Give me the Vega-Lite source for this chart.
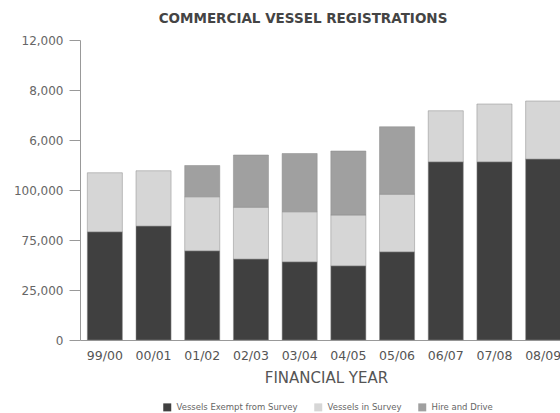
{
  "$schema": "https://vega.github.io/schema/vega-lite/v6.json",
  "autosize": {"type": "none"},
  "width": 480,
  "height": 300,
  "padding": {"left": 80, "top": 40, "right": 0, "bottom": 73},
  "background": "white",
  "title": {
    "text": "COMMERCIAL VESSEL REGISTRATIONS",
    "font": "DejaVu Sans",
    "fontSize": 13.5,
    "fontWeight": "bold",
    "color": "#444444",
    "anchor": "middle",
    "offset": 9,
    "dx": -17
  },
  "data": {
    "values": [
      {"year": "99/00", "type": "Vessels Exempt from Survey", "value": 4330},
      {"year": "99/00", "type": "Vessels in Survey", "value": 2360},
      {"year": "00/01", "type": "Vessels Exempt from Survey", "value": 4560},
      {"year": "00/01", "type": "Vessels in Survey", "value": 2210},
      {"year": "01/02", "type": "Vessels Exempt from Survey", "value": 3570},
      {"year": "01/02", "type": "Vessels in Survey", "value": 2160},
      {"year": "01/02", "type": "Hire and Drive", "value": 1250},
      {"year": "02/03", "type": "Vessels Exempt from Survey", "value": 3240},
      {"year": "02/03", "type": "Vessels in Survey", "value": 2070},
      {"year": "02/03", "type": "Hire and Drive", "value": 2090},
      {"year": "03/04", "type": "Vessels Exempt from Survey", "value": 3130},
      {"year": "03/04", "type": "Vessels in Survey", "value": 2000},
      {"year": "03/04", "type": "Hire and Drive", "value": 2330},
      {"year": "04/05", "type": "Vessels Exempt from Survey", "value": 2970},
      {"year": "04/05", "type": "Vessels in Survey", "value": 2030},
      {"year": "04/05", "type": "Hire and Drive", "value": 2560},
      {"year": "05/06", "type": "Vessels Exempt from Survey", "value": 3530},
      {"year": "05/06", "type": "Vessels in Survey", "value": 2300},
      {"year": "05/06", "type": "Hire and Drive", "value": 2700},
      {"year": "06/07", "type": "Vessels Exempt from Survey", "value": 7130},
      {"year": "06/07", "type": "Vessels in Survey", "value": 2040},
      {"year": "07/08", "type": "Vessels Exempt from Survey", "value": 7130},
      {"year": "07/08", "type": "Vessels in Survey", "value": 2310},
      {"year": "08/09", "type": "Vessels Exempt from Survey", "value": 7240},
      {"year": "08/09", "type": "Vessels in Survey", "value": 2320}
    ]
  },
  "mark": {"type": "bar", "stroke": "#8a8a8a", "strokeWidth": 0.5},
  "encoding": {
    "x": {
      "field": "year",
      "type": "nominal",
      "sort": null,
      "scale": {"range": [0, 488], "paddingInner": 0.28, "paddingOuter": 0.15},
      "axis": {
        "title": "FINANCIAL YEAR",
        "labelAngle": 0,
        "ticks": false,
        "domainColor": "#999999",
        "labelFont": "DejaVu Sans",
        "labelFontSize": 12.5,
        "labelColor": "#555555",
        "labelPadding": 9,
        "titleFont": "DejaVu Sans",
        "titleFontSize": 15,
        "titleFontWeight": "normal",
        "titleColor": "#555555",
        "titlePadding": 9,
        "titleX": 246
      }
    },
    "y": {
      "field": "value",
      "type": "quantitative",
      "stack": "zero",
      "scale": {"domain": [0, 12000], "nice": false},
      "axis": {
        "title": null,
        "values": [0, 2000, 4000, 6000, 8000, 10000, 12000],
        "labelExpr": "datum.value == 0 ? '0' : datum.value == 2000 ? '25,000' : datum.value == 4000 ? '75,000' : datum.value == 6000 ? '100,000' : datum.value == 8000 ? '6,000' : datum.value == 10000 ? '8,000' : '12,000'",
        "grid": false,
        "tickSize": 11,
        "tickColor": "#999999",
        "domainColor": "#999999",
        "labelFont": "DejaVu Sans",
        "labelFontSize": 12,
        "labelColor": "#666666",
        "labelPadding": 6
      }
    },
    "color": {
      "field": "type",
      "type": "nominal",
      "scale": {
        "domain": ["Vessels Exempt from Survey", "Vessels in Survey", "Hire and Drive"],
        "range": ["#404040", "#d6d6d6", "#a0a0a0"]
      },
      "legend": {
        "title": null,
        "orient": "none",
        "direction": "horizontal",
        "legendX": 83,
        "legendY": 363,
        "symbolType": "square",
        "symbolSize": 64,
        "symbolStrokeWidth": 0,
        "labelFont": "DejaVu Sans",
        "labelFontSize": 8.5,
        "labelColor": "#666666",
        "labelOffset": 5,
        "columnPadding": 16
      }
    },
    "order": {"field": "sortkey", "type": "quantitative"}
  },
  "transform": [
    {"calculate": "indexof(['Vessels Exempt from Survey','Vessels in Survey','Hire and Drive'], datum.type)", "as": "sortkey"}
  ],
  "config": {"view": {"stroke": null}}
}
